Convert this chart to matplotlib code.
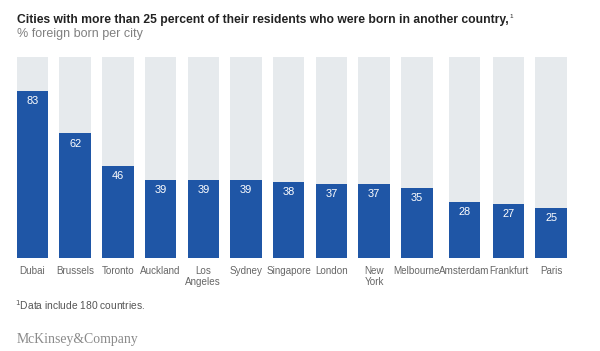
import matplotlib
matplotlib.use("Agg")
import matplotlib.pyplot as plt
import numpy as np

plt.rcParams['font.family'] = ['Liberation Sans', 'DejaVu Sans']

# data
cities = ["Dubai", "Brussels", "Toronto", "Auckland", "Los\nAngeles", "Sydney",
          "Singapore", "London", "New\nYork", "Melbourne", "Amsterdam",
          "Frankfurt", "Paris"]
foreign_pct = [83, 62, 46, 39, 39, 39, 38, 37, 37, 35, 28, 27, 25]
full_scale = [100] * len(cities)

BLUE = "#1f56a6"
GREY_BG = "#e6eaed"
TEXT_GREY = "#666666"
LABEL_SIZE = 7.1

W, H = 600, 351
fig = plt.figure(figsize=(W / 100, H / 100), dpi=100)
renderer = fig.canvas.get_renderer()

# spacing: a base step, widened where neighbouring labels would collide
label_w = []
for c in cities:
    t = fig.text(0, 0, c, fontsize=7.4)
    label_w.append(t.get_window_extent(renderer).width)
    t.remove()
base_step, bar_w, gap = 42.7, 31.5, -3.0
centers = [0.0]
for i in range(1, len(cities)):
    step = max(base_step, (label_w[i - 1] + label_w[i]) / 2 + gap)
    centers.append(centers[-1] + step)
x = np.array(centers)

# axes in pixel-like data units so bars keep their pixel width
left_px, bottom_px, top_px = 32.5 - bar_w / 2, 258, 57
span = x[-1] + bar_w
ax = fig.add_axes([left_px / W, 1 - bottom_px / H, span / W, (bottom_px - top_px) / H])

ax.bar(x, full_scale, width=bar_w, color=GREY_BG, zorder=1)
ax.bar(x, foreign_pct, width=bar_w, color=BLUE, zorder=2)

# value labels just inside the top of each blue bar
for xi, v in zip(x, foreign_pct):
    ax.annotate(str(v), (xi, v), xytext=(0, -7.3), textcoords="offset points",
                ha="center", va="center", color="white", fontsize=7.9, zorder=3)

ax.set_xlim(-bar_w / 2, x[-1] + bar_w / 2)
ax.set_ylim(0, 100)
ax.set_xticks(x)
ax.set_xticklabels(cities, fontsize=LABEL_SIZE, color=TEXT_GREY, linespacing=1.2, va="top")
ax.tick_params(axis="x", length=0, pad=5.5)
ax.set_yticks([])
for s in ax.spines.values():
    s.set_visible(False)

fig.text(17 / W, 1 - 20 / H, "Cities with more than 25 percent of their residents who were born in another country,",
         fontsize=8.7, color="#222222", va="center", ha="left", fontweight="bold")
fig.text(509 / W, 1 - 16.5 / H, "1", fontsize=4.5, color="#222222", va="center", ha="left")
fig.text(17 / W, 1 - 33.5 / H, "% foreign born per city", fontsize=9.0, color="#808080",
         va="center", ha="left")

fig.text(15 / W, 1 - 305 / H, "$^{1}$Data include 180 countries.", fontsize=7.4,
         color="#555555", va="center", ha="left")
fig.text(17 / W, 1 - 340 / H, "McKinsey&Company", fontsize=9.9, color="#8a8a8a",
         va="center", ha="left", family="Liberation Serif")

fig.savefig("out.png", dpi=100, facecolor="white")
